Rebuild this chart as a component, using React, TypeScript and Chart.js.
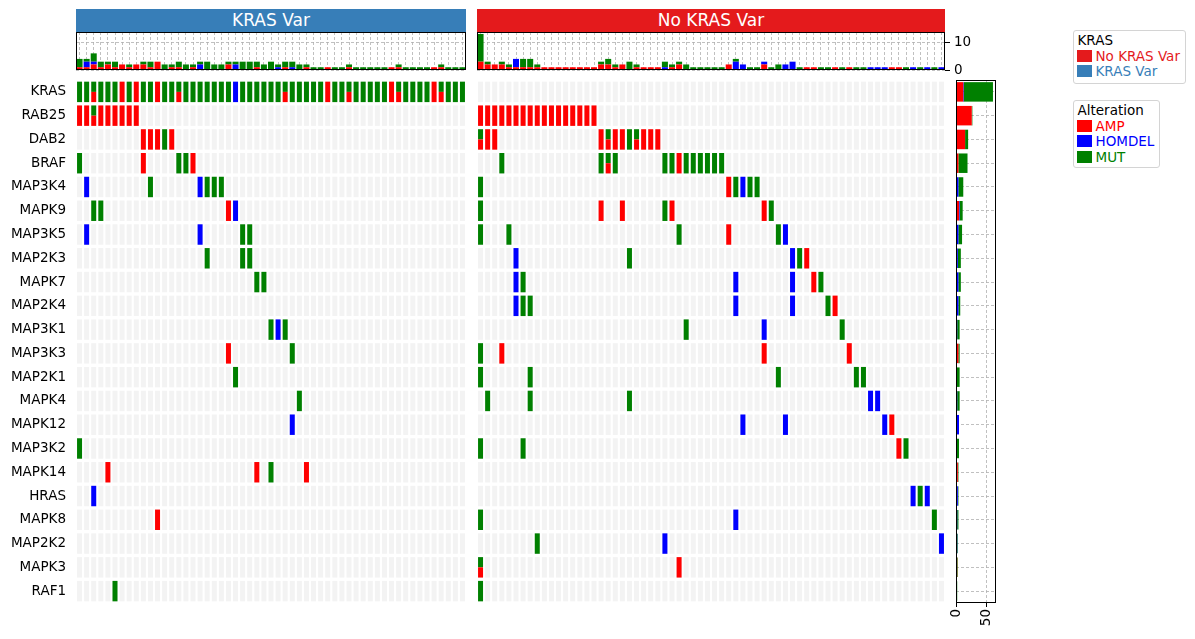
import React, { useEffect, useRef } from "react";
import { Chart, registerables } from "chart.js";

Chart.register(...registerables);
Chart.defaults.font.family = "'DejaVu Sans', sans-serif";
Chart.defaults.font.size = 13.5;
Chart.defaults.color = "#000";

// ---------------- data ----------------
const genes = [
  "KRAS", "RAB25", "DAB2", "BRAF", "MAP3K4", "MAPK9", "MAP3K5", "MAP2K3", "MAPK7", "MAP2K4", "MAP3K1",
  "MAP3K3", "MAP2K1", "MAPK4", "MAPK12", "MAP3K2", "MAPK14", "HRAS", "MAPK8", "MAP2K2", "MAPK3", "RAF1",
];
const groupNames = ["KRAS Var", "No KRAS Var"];
const alterationNames = ["AMP", "HOMDEL", "MUT"];
const krasVarSamples = Array.from({ length: 55 }, (_, i) => `KV${i + 1}`);
const noKrasVarSamples = Array.from({ length: 66 }, (_, i) => `NK${i + 1}`);
const topTicks = [0, 10];
const sideTicks = [0, 50];

type Events = [string, number[]][];

// KRAS Var group: [gene, sample columns]
const krasVarAMP: Events = [
  ["KRAS", [2, 6, 8, 11, 14, 29, 35, 38, 44, 45, 50, 51]],
  ["RAB25", [0, 1, 2, 3, 4, 5, 6, 7, 8]],
  ["DAB2", [9, 10, 11, 13]],
  ["BRAF", [9, 16]],
  ["MAPK9", [21]],
  ["MAP3K3", [21]],
  ["MAPK14", [4, 25, 32]],
  ["MAPK8", [11]],
];
const krasVarHOMDEL: Events = [
  ["KRAS", [22]],
  ["MAP3K4", [1, 17]],
  ["MAPK9", [22]],
  ["MAP3K5", [1, 17]],
  ["MAP3K1", [28]],
  ["MAPK12", [30]],
  ["HRAS", [2]],
];
const krasVarMUT: Events = [
  ["KRAS", [0, 1, 2, 3, 4, 5, 7, 9, 10, 12, 13, 14, 15, 16, 17, 18, 19, 20, 21, 23, 24, 25, 26, 27, 28, 29, 30, 31, 32, 33, 34, 36, 37, 38, 39, 40, 41, 42, 43, 45, 46, 47, 48, 49, 51, 52, 53, 54]],
  ["RAB25", [2]],
  ["DAB2", [12]],
  ["BRAF", [0, 14, 15]],
  ["MAP3K4", [10, 18, 19, 20]],
  ["MAPK9", [2, 3]],
  ["MAP3K5", [23, 24]],
  ["MAP2K3", [18, 23, 24]],
  ["MAPK7", [25, 26]],
  ["MAP3K1", [27, 29]],
  ["MAP3K3", [30]],
  ["MAP2K1", [22]],
  ["MAPK4", [31]],
  ["MAP3K2", [0]],
  ["MAPK14", [27]],
  ["RAF1", [5]],
];

// No KRAS Var group
const noKrasVarAMP: Events = [
  ["RAB25", [0, 1, 2, 3, 4, 5, 6, 7, 8, 9, 10, 11, 12, 13, 14, 15, 16]],
  ["DAB2", [0, 1, 2, 17, 18, 19, 20, 22, 23, 24, 25]],
  ["BRAF", [18, 28]],
  ["MAP3K4", [35]],
  ["MAPK9", [17, 20, 27, 40]],
  ["MAP3K5", [35]],
  ["MAP2K3", [46]],
  ["MAPK7", [47]],
  ["MAP2K4", [50]],
  ["MAP3K3", [3, 40, 52]],
  ["MAPK12", [58]],
  ["MAP3K2", [59]],
  ["MAPK3", [0, 28]],
];
const noKrasVarHOMDEL: Events = [
  ["MAP3K4", [37]],
  ["MAP3K5", [43]],
  ["MAP2K3", [5, 44]],
  ["MAPK7", [5, 36, 44]],
  ["MAP2K4", [5, 36, 44]],
  ["MAP3K1", [40]],
  ["MAPK4", [55, 56]],
  ["MAPK12", [37, 43, 57]],
  ["HRAS", [61, 63]],
  ["MAPK8", [36]],
  ["MAP2K2", [26, 65]],
];
const noKrasVarMUT: Events = [
  ["DAB2", [0, 18, 21, 22]],
  ["BRAF", [3, 17, 18, 19, 26, 27, 29, 30, 31, 32, 33, 34]],
  ["MAP3K4", [0, 36, 38, 39]],
  ["MAPK9", [0, 26, 41]],
  ["MAP3K5", [0, 4, 28, 42]],
  ["MAP2K3", [21, 45]],
  ["MAPK7", [6, 48]],
  ["MAP2K4", [6, 7, 49]],
  ["MAP3K1", [29, 51]],
  ["MAP3K3", [0]],
  ["MAP2K1", [0, 7, 42, 53, 54]],
  ["MAPK4", [1, 7, 21]],
  ["MAP3K2", [0, 6, 60]],
  ["HRAS", [62]],
  ["MAPK8", [0, 64]],
  ["MAP2K2", [8]],
  ["MAPK3", [0]],
  ["RAF1", [0]],
];

// ---------------- styles ----------------
const ALT_COLOR: Record<string, string> = { AMP: "#ff0000", HOMDEL: "#0000ff", MUT: "#008000" };
const GROUP_COLOR = ["#377eb8", "#e41a1c"];
const CELL_BG = "#f3f3f3";
const GRID = "#b0b0b0";
const DASH = [3, 2];
const FONT = "'DejaVu Sans', sans-serif";

const framePlugin = {
  id: "frame",
  afterDraw(chart: any) {
    const { ctx, chartArea: a } = chart;
    ctx.save();
    ctx.strokeStyle = "#000";
    ctx.lineWidth = 1;
    ctx.setLineDash([]);
    ctx.strokeRect(Math.round(a.left) + 0.5, Math.round(a.top) + 0.5, Math.round(a.right - a.left) - 1, Math.round(a.bottom - a.top) - 1);
    ctx.restore();
  },
};

const fit = (w?: number, h?: number) => (s: any) => {
  if (w !== undefined) s.width = w;
  if (h !== undefined) s.height = h;
  s.paddingTop = 0;
  s.paddingBottom = 0;
  s.paddingLeft = 0;
  s.paddingRight = 0;
};

const base = (padding: any) => ({
  animation: false,
  responsive: false,
  devicePixelRatio: 1,
  layout: { padding },
  plugins: { legend: { display: false }, tooltip: { enabled: false } },
});

const eventLists = (amp: Events, homdel: Events, mut: Events): Record<string, Events> => ({ AMP: amp, HOMDEL: homdel, MUT: mut });

// cells stacked top→bottom inside a row: MUT, HOMDEL, AMP
const cellOrder = ["MUT", "HOMDEL", "AMP"];

function gridConfig(samples: string[], lists: Record<string, Events>, showLabels: boolean, padding: any) {
  const cells: Record<string, string[]> = {};
  cellOrder.forEach((alt) =>
    lists[alt].forEach(([g, cols]) =>
      cols.forEach((c) => {
        const k = genes.indexOf(g) + ":" + c;
        (cells[k] = cells[k] || []).push(alt);
      })
    )
  );
  const bg: any[] = [];
  genes.forEach((_, r) => samples.forEach((s) => bg.push({ x: s, y: [r + 0.07, r + 0.93] })));
  const byAlt: Record<string, any[]> = { AMP: [], HOMDEL: [], MUT: [] };
  Object.keys(cells).forEach((k) => {
    const [r, c] = k.split(":").map(Number);
    const alts = cells[k];
    const h = 0.86 / alts.length;
    alts.forEach((a, i) => byAlt[a].push({ x: samples[c], y: [r + 0.07 + i * h, r + 0.07 + (i + 1) * h] }));
  });
  const common = { grouped: false, categoryPercentage: 1, barPercentage: 0.705, borderWidth: 0, inflateAmount: 0 };
  return {
    type: "bar",
    data: {
      labels: samples,
      datasets: [
        { label: "bg", data: bg, backgroundColor: CELL_BG, order: 5, ...common },
        ...alterationNames.map((a) => ({ label: a, data: byAlt[a], backgroundColor: ALT_COLOR[a], order: 1, ...common })),
      ],
    },
    options: {
      ...base(padding),
      scales: {
        x: { display: false },
        y: {
          type: "linear",
          min: 0,
          max: genes.length,
          reverse: true,
          display: showLabels,
          grid: { display: false, drawTicks: false },
          border: { display: false },
          ticks: { autoSkip: false, padding: 10, color: "#000", font: { size: 13.5, family: FONT }, callback: (v: number) => genes[Math.floor(v)] },
          afterBuildTicks: (s: any) => {
            s.ticks = genes.map((_, i) => ({ value: i + 0.5 }));
          },
          afterFit: fit(showLabels ? 76 : 0),
        },
      },
    },
  };
}

function topConfig(samples: string[], lists: Record<string, Events>, showAxis: boolean, padding: any) {
  const counts = (list: Events) => {
    const arr = samples.map(() => 0);
    list.forEach(([, cols]) => cols.forEach((c) => arr[c]++));
    return arr;
  };
  return {
    type: "bar",
    data: {
      labels: samples,
      datasets: alterationNames.map((a) => ({
        label: a,
        data: counts(lists[a]),
        backgroundColor: ALT_COLOR[a],
        borderWidth: 0,
        categoryPercentage: 1,
        barPercentage: 0.85,
      })),
    },
    options: {
      ...base(padding),
      scales: {
        x: {
          stacked: true,
          grid: { offset: false, color: GRID, lineWidth: 0.8, drawTicks: false, borderDash: DASH },
          border: { display: false, dash: DASH },
          ticks: { display: false },
          afterFit: fit(undefined, 0),
        },
        y: {
          stacked: true,
          min: 0,
          max: 13.7,
          position: "right",
          grid: { color: GRID, lineWidth: 0.8, drawTicks: showAxis, tickLength: 5, tickColor: "#000", tickWidth: 1, borderDash: DASH },
          border: { display: false, dash: DASH },
          ticks: { display: showAxis, padding: 4, color: "#000", font: { size: 13.5, family: FONT } },
          afterBuildTicks: (s: any) => {
            s.ticks = topTicks.map((v) => ({ value: v }));
          },
          afterFit: fit(showAxis ? 46 : 0),
        },
      },
    },
    plugins: [framePlugin],
  };
}

function sideConfig(padding: any) {
  const panels = [
    eventLists(krasVarAMP, krasVarHOMDEL, krasVarMUT),
    eventLists(noKrasVarAMP, noKrasVarHOMDEL, noKrasVarMUT),
  ];
  const totals = (alt: string) =>
    genes.map((g) => panels.reduce((sum, p) => sum + p[alt].filter(([gg]) => gg === g).reduce((s, [, cols]) => s + cols.length, 0), 0));
  return {
    type: "bar",
    data: {
      labels: genes,
      datasets: alterationNames.map((a) => ({
        label: a,
        data: totals(a),
        backgroundColor: ALT_COLOR[a],
        borderWidth: 0,
        categoryPercentage: 1,
        barPercentage: 0.82,
      })),
    },
    options: {
      ...base(padding),
      indexAxis: "y",
      scales: {
        x: {
          type: "linear",
          stacked: true,
          min: 0,
          max: 66,
          grid: { color: GRID, lineWidth: 0.8, drawTicks: true, tickLength: 4, tickColor: "#000", tickWidth: 1, borderDash: DASH },
          border: { display: false, dash: DASH },
          ticks: { minRotation: 90, maxRotation: 90, padding: 2, color: "#000", font: { size: 13.5, family: FONT } },
          afterBuildTicks: (s: any) => {
            s.ticks = sideTicks.map((v) => ({ value: v }));
          },
          afterFit: fit(undefined, 33),
        },
        y: {
          stacked: true,
          grid: { offset: false, color: GRID, lineWidth: 0.8, drawTicks: false, borderDash: DASH },
          border: { display: false, dash: DASH },
          ticks: { display: false },
          afterFit: fit(0),
        },
      },
    },
    plugins: [framePlugin],
  };
}

// ---------------- components ----------------
function ChartCanvas({ left, top, width, height, build }: { left: number; top: number; width: number; height: number; build: () => any }) {
  const ref = useRef<HTMLCanvasElement>(null);
  useEffect(() => {
    const chart = new Chart(ref.current as HTMLCanvasElement, build());
    return () => chart.destroy();
  }, []);
  return <canvas ref={ref} width={width} height={height} style={{ position: "absolute", left, top, width, height }} />;
}

function Header({ left, width, text, color }: { left: number; width: number; text: string; color: string }) {
  return (
    <div
      style={{
        position: "absolute",
        left,
        top: 9,
        width,
        height: 23,
        background: color,
        color: "#fff",
        fontFamily: FONT,
        fontSize: 17,
        lineHeight: "23px",
        textAlign: "center",
      }}
    >
      {text}
    </div>
  );
}

function LegendBox({ left, top, width, height, title, items }: { left: number; top: number; width: number; height: number; title: string; items: { label: string; patch: string; text: string }[] }) {
  return (
    <div
      style={{
        position: "absolute",
        left,
        top,
        width,
        height,
        boxSizing: "border-box",
        border: "1px solid #d4d4d4",
        borderRadius: 3,
        background: "#fff",
        fontFamily: FONT,
        fontSize: 13.5,
      }}
    >
      <div style={{ position: "absolute", left: 3.5, top: 1, lineHeight: "16px", color: "#000", whiteSpace: "nowrap" }}>{title}</div>
      {items.map((it, i) => (
        <React.Fragment key={it.label}>
          <div style={{ position: "absolute", left: 2.5, top: 19 + i * 15.3, width: 15, height: 12, background: it.patch }} />
          <div style={{ position: "absolute", left: 21.5, top: 17 + i * 15.3, lineHeight: "16px", color: it.text, whiteSpace: "nowrap" }}>{it.label}</div>
        </React.Fragment>
      ))}
    </div>
  );
}

export default function App() {
  const leftLists = eventLists(krasVarAMP, krasVarHOMDEL, krasVarMUT);
  const rightLists = eventLists(noKrasVarAMP, noKrasVarHOMDEL, noKrasVarMUT);
  return (
    <div style={{ position: "absolute", left: 0, top: 0, width: 1195, height: 639, background: "#fff", overflow: "hidden" }}>
      <Header left={76} width={390} text={groupNames[0]} color={GROUP_COLOR[0]} />
      <Header left={477} width={468} text={groupNames[1]} color={GROUP_COLOR[1]} />
      <ChartCanvas left={70} top={28} width={400} height={46} build={() => topConfig(krasVarSamples, leftLists, false, { left: 6, right: 4, top: 4, bottom: 4 })} />
      <ChartCanvas left={471} top={28} width={520} height={46} build={() => topConfig(noKrasVarSamples, rightLists, true, { left: 6, right: 0, top: 4, bottom: 4 })} />
      <ChartCanvas left={0} top={76} width={470} height={530} build={() => gridConfig(krasVarSamples, leftLists, true, { left: 0, right: 4, top: 4, bottom: 3 })} />
      <ChartCanvas left={471} top={76} width={480} height={530} build={() => gridConfig(noKrasVarSamples, rightLists, false, { left: 6, right: 6, top: 4, bottom: 3 })} />
      <ChartCanvas left={950} top={76} width={50} height={560} build={() => sideConfig({ left: 6, right: 4, top: 4, bottom: 0 })} />
      <LegendBox
        left={1073}
        top={30}
        width={113}
        height={54}
        title="KRAS"
        items={[
          { label: groupNames[1], patch: GROUP_COLOR[1], text: GROUP_COLOR[1] },
          { label: groupNames[0], patch: GROUP_COLOR[0], text: GROUP_COLOR[0] },
        ]}
      />
      <LegendBox
        left={1073}
        top={100}
        width={87}
        height={68}
        title="Alteration"
        items={alterationNames.map((a) => ({ label: a, patch: ALT_COLOR[a], text: ALT_COLOR[a] }))}
      />
    </div>
  );
}
